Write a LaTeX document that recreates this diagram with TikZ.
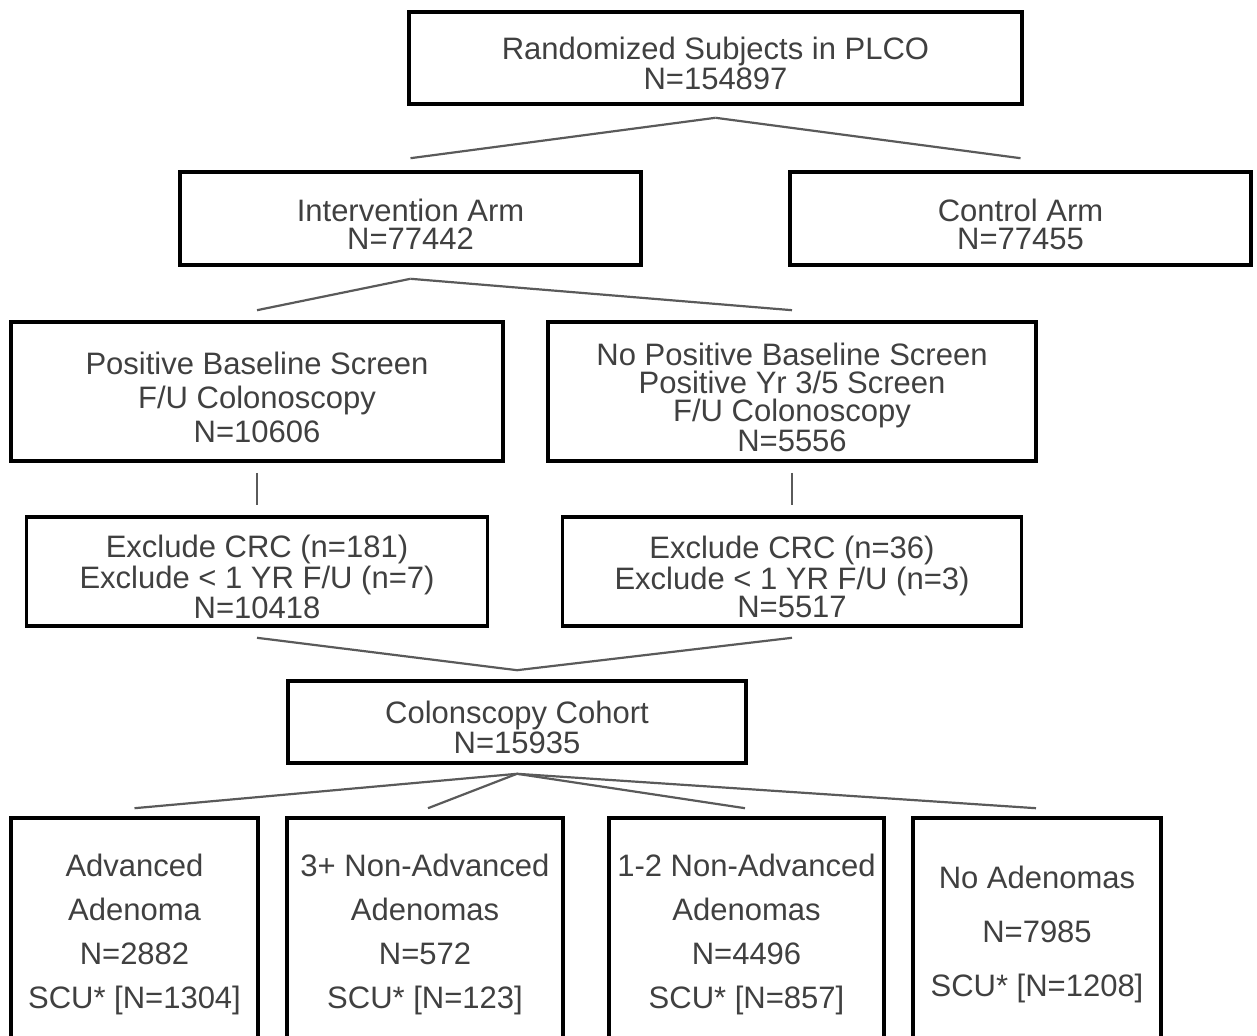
\documentclass[tikz,border=0pt]{standalone}
\usepackage{fontspec}
\setmainfont{Liberation Sans}
\definecolor{textgray}{HTML}{404040}
\definecolor{linegray}{HTML}{5A5A5A}
\newcommand\tgap{\rule{0pt}{17pt}}
\begin{document}
\begin{tikzpicture}[x=0.5pt, y=-0.5pt]
\tikzset{tbox/.style={draw=black, line width=1.8pt, rectangle, align=center, inner sep=0, text=textgray, font=\fontsize{15.5}{14}\selectfont}}
\tikzset{branch/.style={draw=linegray, line width=1.1pt}}
\useasboundingbox (0,0) rectangle (1257,1036);
\clip (0,0) rectangle (1257,1036);
%% define coordinate grid
\def \xmid {715.5}
\def \xleft {257}
\def \xright {792}
\def \xcohort {517}
\def \yrand {58}
\def \yarm {218.5}
\def \yscreen {391.5}
\def \yexcl {571.5}
\def \ycohort {722}
\def \ygroup {934}

%% randomization
\node [tbox, minimum width=306.5pt, minimum height=46pt] (rand) at (\xmid,\yrand) {\tgap Randomized Subjects in PLCO\\N=154897};
\node [tbox, minimum width=230.5pt, minimum height=46.5pt] (inter) at (410.5,\yarm) {\tgap Intervention Arm\\N=77442};
\node [tbox, minimum width=230.5pt, minimum height=46.5pt] (control) at (1020.5,\yarm) {\tgap Control Arm\\N=77455};
% paths
\draw [branch] ([yshift=-6pt]rand.south) -- ([yshift=6pt]inter.north);
\draw [branch] ([yshift=-6pt]rand.south) -- ([yshift=6pt]control.north);

%% screening
\node [tbox, minimum width=246pt, minimum height=69.5pt, font=\fontsize{15.5}{17}\selectfont] (posbase) at (\xleft,\yscreen) {\tgap Positive Baseline Screen\\F/U Colonoscopy\\N=10606};
\node [tbox, minimum width=244pt, minimum height=69.5pt] (noposbase) at (\xright,\yscreen) {\tgap No Positive Baseline Screen\\Positive Yr 3/5 Screen\\F/U Colonoscopy\\N=5556};
% paths
\draw [branch] ([yshift=-6pt]inter.south) -- ([yshift=5pt]posbase.north);
\draw [branch] ([yshift=-6pt]inter.south) -- ([yshift=5pt]noposbase.north);

%% exclusions
\node [tbox, minimum width=230.5pt, minimum height=54.5pt] (exclA) at (\xleft,\yexcl) {\tgap Exclude CRC (n=181)\\Exclude {\textless} 1 YR F/U (n=7)\\N=10418};
\node [tbox, minimum width=229.5pt, minimum height=54.5pt] (exclB) at (\xright,\yexcl) {\tgap Exclude CRC (n=36)\\Exclude {\textless} 1 YR F/U (n=3)\\N=5517};
% paths
\draw [branch] ([yshift=-5pt]posbase.south) -- ([yshift=5pt]exclA.north);
\draw [branch] ([yshift=-5pt]noposbase.south) -- ([yshift=5pt]exclB.north);

%% cohort
\node [tbox, minimum width=229pt, minimum height=41pt] (cohort) at (\xcohort,\ycohort) {\tgap Colonscopy Cohort\\N=15935};
% paths
\draw [branch] ([yshift=-5pt]exclA.south) -- ([yshift=4.5pt]cohort.north);
\draw [branch] ([yshift=-5pt]exclB.south) -- ([yshift=4.5pt]cohort.north);

%% adenoma groups
\node [tbox, minimum width=123.5pt, minimum height=116pt, font=\fontsize{15.5}{22}\selectfont] (advanced) at (134.5,\ygroup) {Advanced\\Adenoma\\N=2882\\SCU* [N=1304]};
\node [tbox, minimum width=138pt, minimum height=116pt, font=\fontsize{15.5}{22}\selectfont] (threeplus) at (425,\ygroup) {3+ Non-Advanced\\Adenomas\\N=572\\SCU* [N=123]};
\node [tbox, minimum width=137.5pt, minimum height=116pt, font=\fontsize{15.5}{22}\selectfont] (onetwo) at (746.5,\ygroup) {1-2 Non-Advanced\\Adenomas\\N=4496\\SCU* [N=857]};
\node [tbox, minimum width=124pt, minimum height=116pt, font=\fontsize{15.5}{27}\selectfont] (noaden) at (1037,\ygroup) {No Adenomas\\N=7985\\SCU* [N=1208]};
% paths
\foreach \grp/\dx in {advanced/0, threeplus/1.5, onetwo/-0.75, noaden/-0.5}
  \draw [branch] ([yshift=-4.5pt]cohort.south) -- ([yshift=4pt, xshift=\dx pt]\grp.north);
\end{tikzpicture}
\end{document}
